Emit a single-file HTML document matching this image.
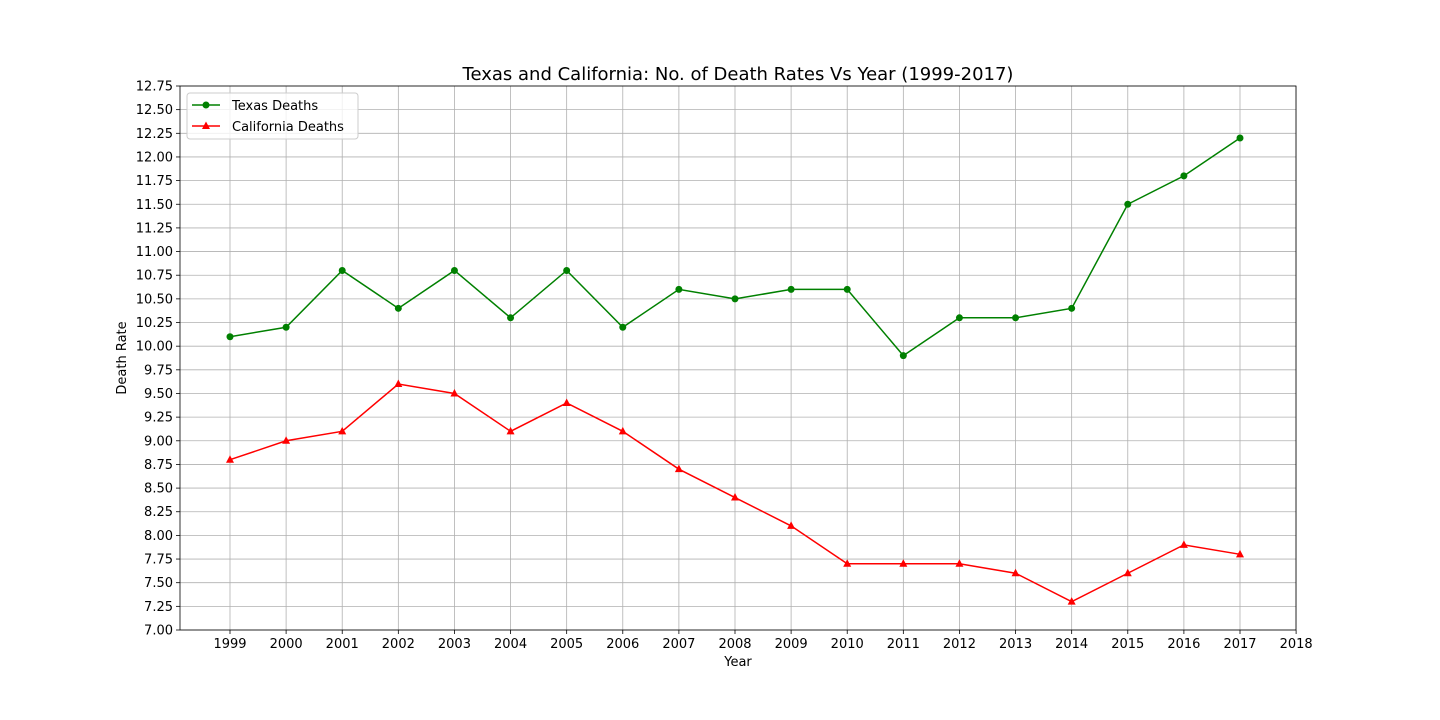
<!DOCTYPE html>
<html><head><meta charset="utf-8"><style>
body{margin:0;background:#fff;}
svg{display:block;font-family:"DejaVu Sans","Liberation Sans",sans-serif;}
</style></head><body>
<svg id="chart" width="1440" height="720">
</svg>
<script>
const years=[1999,2000,2001,2002,2003,2004,2005,2006,2007,2008,2009,2010,2011,2012,2013,2014,2015,2016,2017];
const texas=[10.1,10.2,10.8,10.4,10.8,10.3,10.8,10.2,10.6,10.5,10.6,10.6,9.9,10.3,10.3,10.4,11.5,11.8,12.2];
const california=[8.8,9.0,9.1,9.6,9.5,9.1,9.4,9.1,8.7,8.4,8.1,7.7,7.7,7.7,7.6,7.3,7.6,7.9,7.8];
const xTicks=[1999,2000,2001,2002,2003,2004,2005,2006,2007,2008,2009,2010,2011,2012,2013,2014,2015,2016,2017,2018];
const yTicks=[7.00,7.25,7.50,7.75,8.00,8.25,8.50,8.75,9.00,9.25,9.50,9.75,10.00,10.25,10.50,10.75,11.00,11.25,11.50,11.75,12.00,12.25,12.50,12.75];

const L=180,R=1296,T=86,B=630;
const x=v=>230+(v-1999)*(1240-230)/18;
const y=v=>B-(v-7)*(B-T)/5.75;
const svg=document.getElementById('chart');
const NS='http://www.w3.org/2000/svg';
function mk(tag,attrs,parent){const e=document.createElementNS(NS,tag);for(const k in attrs)e.setAttribute(k,attrs[k]);(parent||svg).appendChild(e);return e;}

const grid=mk('g',{});


xTicks.forEach(t=>{
  mk('line',{x1:x(t),x2:x(t),y1:T,y2:B,stroke:'#b0b0b0','stroke-width':0.8},grid);
  mk('line',{x1:x(t),x2:x(t),y1:B,y2:B+4,stroke:'#000','stroke-width':0.8});
  const tx=mk('text',{x:x(t),y:B+18,'text-anchor':'middle','font-size':13});
  tx.textContent=t;
  
  
});
yTicks.forEach(t=>{
  mk('line',{x1:L,x2:R,y1:y(t),y2:y(t),stroke:'#b0b0b0','stroke-width':0.8},grid);
  mk('line',{x1:L-4,x2:L,y1:y(t),y2:y(t),stroke:'#000','stroke-width':0.8});
  const tx=mk('text',{x:L-7,y:y(t)+4.5,'text-anchor':'end','font-size':13});
  tx.textContent=t.toFixed(2);
  
  
});
const frame=mk('rect',{x:L,y:T,width:R-L,height:B-T,fill:'none',stroke:'#000','stroke-width':0.8});



function series(vals,color,marker,name){
  const g=mk('g',{});
  
  
  mk('polyline',{points:vals.map((v,i)=>x(years[i])+','+y(v)).join(' '),fill:'none',stroke:color,'stroke-width':1.5},g);
  vals.forEach((v,i)=>{
    let m;
    if(marker==='o') m=mk('circle',{cx:x(years[i]),cy:y(v),r:3.5,fill:color},g);
    else {const cx=x(years[i]),cy=y(v);m=mk('polygon',{points:`${cx},${cy-4.5} ${cx-4},${cy+3} ${cx+4},${cy+3}`,fill:color},g);}
    
    
  });
}
series(texas,'green','o','texas-series');
series(california,'red','^','california-series');

const title=mk('text',{x:(L+R)/2,y:80,'text-anchor':'middle','font-size':18});
title.textContent='Texas and California: No. of Death Rates Vs Year (1999-2017)';


const xl=mk('text',{x:(L+R)/2,y:666,'text-anchor':'middle','font-size':13});
xl.textContent='Year';


const yl=mk('text',{x:0,y:0,'text-anchor':'middle','font-size':13,transform:`translate(126,${(T+B)/2}) rotate(-90)`});
yl.textContent='Death Rate';



const lg=mk('g',{});


mk('rect',{x:187,y:93,width:171,height:46,rx:3,fill:'#fff','fill-opacity':0.8,stroke:'#ccc'},lg);
mk('line',{x1:192,x2:220,y1:105,y2:105,stroke:'green','stroke-width':1.5},lg);
mk('circle',{cx:206,cy:105,r:3.5,fill:'green'},lg);
const t1=mk('text',{x:232,y:110,'font-size':13},lg);t1.textContent='Texas Deaths';


mk('line',{x1:192,x2:220,y1:126,y2:126,stroke:'red','stroke-width':1.5},lg);
mk('polygon',{points:'206,121.5 202,129 210,129',fill:'red'},lg);
const t2=mk('text',{x:232,y:131,'font-size':13},lg);t2.textContent='California Deaths';


</script>
</body></html>
